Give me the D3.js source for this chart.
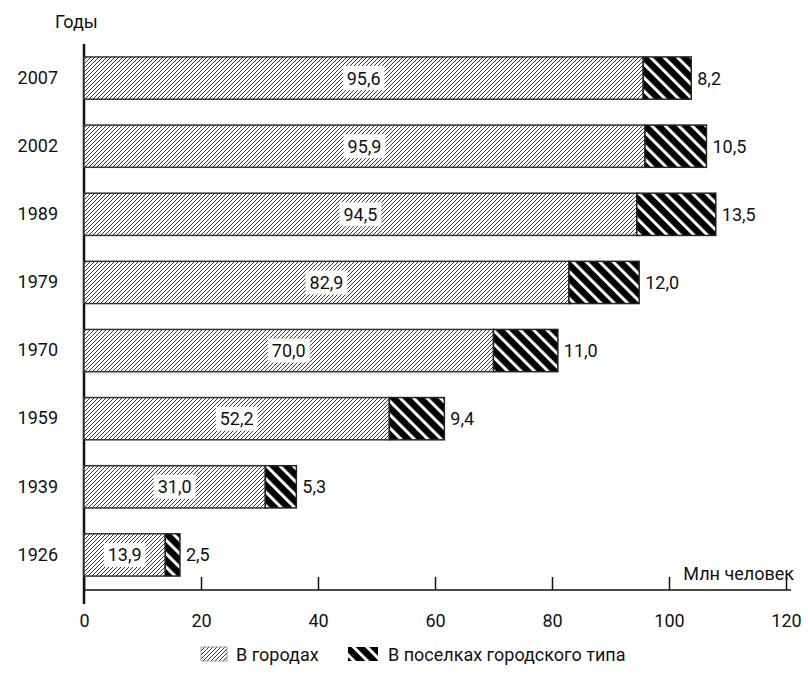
<!DOCTYPE html>
<html>
<head>
<meta charset="utf-8">
<script src="https://cdn.jsdelivr.net/npm/d3@7"></script>
<style>
body{margin:0;background:#fff}
text{font-family:Roboto,"Liberation Sans",sans-serif;fill:#111}
</style>
</head>
<body>
<div id="chart"></div>
<script>
// данные
var years = ["2007","2002","1989","1979","1970","1959","1939","1926"]
var cities = [95.6,95.9,94.5,82.9,70.0,52.2,31.0,13.9]
var settlements = [8.2,10.5,13.5,12.0,11.0,9.4,5.3,2.5]
var xTicks = [0,20,40,60,80,100,120]
var seriesNames = ["В городах","В поселках городского типа"]

var W = 808, H = 689, FS = 18
var svg = d3.select("#chart").append("svg")
    .attr("width",W).attr("height",H)

var defs = svg.append("defs")
var p1 = defs.append("pattern").attr("id","hCity")
    .attr("patternUnits","userSpaceOnUse").attr("width",4).attr("height",4)
p1.append("rect").attr("width",4).attr("height",4).attr("fill","#fff")
p1.append("path").attr("d","M-1,1 l2,-2 M0,4 l4,-4 M3,5 l2,-2")
    .attr("stroke","#222").attr("stroke-width",0.9)

var p2 = defs.append("pattern").attr("id","hSet")
    .attr("patternUnits","userSpaceOnUse").attr("width",9.5).attr("height",10)
    .attr("patternTransform","rotate(-45)")
p2.append("rect").attr("width",9.5).attr("height",10).attr("fill","#000")
p2.append("rect").attr("x",0).attr("width",3).attr("height",10).attr("fill","#fff")

var x = d3.scaleLinear().domain([0,120]).range([84,786])
var y = d3.scaleBand().domain(years).range([44,589]).paddingInner(0.38).paddingOuter(0.19)

var fmt = function(v){ return d3.format(".1f")(v).replace(".",",") }

// ось X
var ax = svg.append("g").attr("transform","translate(0,590)")
    .call(d3.axisBottom(x).tickValues(xTicks).tickSize(-13).tickPadding(0).tickFormat(d3.format("d")))
ax.select(".domain").remove()
ax.selectAll("line").attr("stroke","#111").attr("stroke-width",1.5)
ax.selectAll("text").attr("y",24).attr("font-size",FS)
    .style("font-family","Roboto,sans-serif").attr("fill","#111")
svg.append("line").attr("x1",84).attr("x2",791).attr("y1",590).attr("y2",590)
    .attr("stroke","#111").attr("stroke-width",1.5)

// ось Y
svg.append("line").attr("x1",84).attr("x2",84).attr("y1",44).attr("y2",604)
    .attr("stroke","#111").attr("stroke-width",2.5)
var ay = svg.append("g").attr("transform","translate(84,0)")
    .call(d3.axisLeft(y).tickSize(0).tickPadding(26))
ay.select(".domain").remove()
ay.selectAll("text").attr("font-size",FS)
    .style("font-family","Roboto,sans-serif").attr("fill","#111")

svg.append("text").attr("x",55).attr("y",28).attr("font-size",FS).text("Годы")
svg.append("text").attr("x",794).attr("y",580).attr("text-anchor","end")
    .attr("font-size",FS).text("Млн человек")

var rows = svg.append("g").selectAll("g").data(years).join("g")

rows.append("rect")
    .attr("x",x(0)).attr("y",function(d){return y(d)})
    .attr("width",function(d,i){return x(cities[i])-x(0)})
    .attr("height",y.bandwidth())
    .attr("fill","url(#hCity)").attr("stroke","#333").attr("stroke-width",1.5)

rows.append("rect")
    .attr("x",function(d,i){return x(cities[i])}).attr("y",function(d){return y(d)})
    .attr("width",function(d,i){return x(cities[i]+settlements[i])-x(cities[i])})
    .attr("height",y.bandwidth())
    .attr("fill","url(#hSet)").attr("stroke","#222").attr("stroke-width",1.5)

// подписи внутри
rows.each(function(d,i){
    var g = d3.select(this)
    var cx = (x(0)+x(cities[i]))/2
    var cy = y(d)+y.bandwidth()/2
    var t = g.append("text").attr("x",cx).attr("y",cy+6.5).attr("text-anchor","middle")
        .attr("font-size",FS).text(fmt(cities[i]))
    var bb = t.node().getBBox()
    g.insert("rect","text").attr("x",bb.x-4).attr("y",cy-12)
        .attr("width",bb.width+8).attr("height",24).attr("fill","#fff")
    g.append("text").attr("x",x(cities[i]+settlements[i])+6).attr("y",cy+6.5)
        .attr("font-size",FS).text(fmt(settlements[i]))
})

// легенда
var leg = svg.append("g")
leg.append("rect").attr("x",201).attr("y",647).attr("width",26).attr("height",14)
    .attr("fill","url(#hCity)").attr("stroke","#888").attr("stroke-width",0.8)
leg.append("text").attr("x",236).attr("y",661).attr("font-size",FS).text(seriesNames[0])
leg.append("rect").attr("x",348).attr("y",647).attr("width",30).attr("height",14)
    .attr("fill","url(#hSet)")
leg.append("text").attr("x",388).attr("y",661).attr("font-size",FS).text(seriesNames[1])
</script>
</body>
</html>
